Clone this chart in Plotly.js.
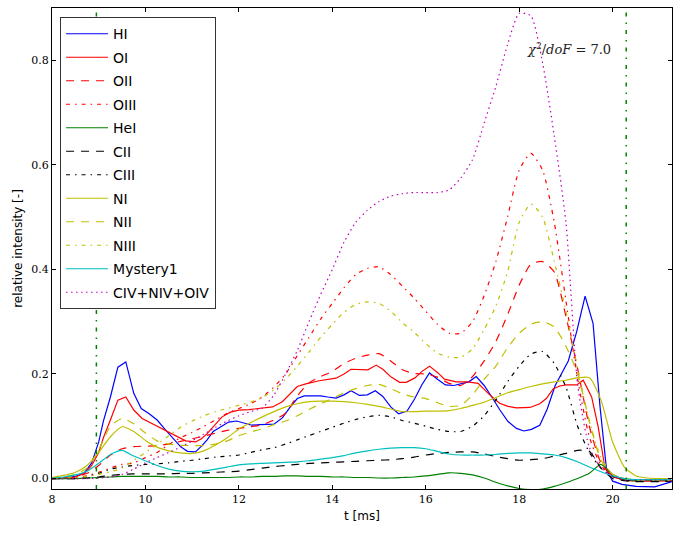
<!DOCTYPE html>
<html>
<head>
<meta charset="utf-8">
<script src="https://cdn.plot.ly/plotly-3.0.1.min.js"></script>
<style>html,body{margin:0;padding:0;background:#fff;}#chart{width:682px;height:533px;}</style>
</head>
<body>
<div id="chart"></div>
<script>
// ---- data ----
var tGrid = [8, 8.25, 8.5, 8.75, 9, 9.25, 9.5, 9.75, 10, 10.25, 10.5, 10.75, 11, 11.25, 11.5, 11.75, 12, 12.25, 12.5, 12.75, 13, 13.25, 13.5, 13.75, 14, 14.25, 14.5, 14.75, 15, 15.25, 15.5, 15.75, 16, 16.25, 16.5, 16.75, 17, 17.25, 17.5, 17.75, 18, 18.25, 18.5, 18.75, 19, 19.25, 19.5, 19.75, 20, 20.25, 20.5, 20.75, 21, 21.25];

var tHI = [8.0, 8.25, 8.5, 8.7, 8.85, 9.0, 9.1, 9.25, 9.41, 9.58, 9.75, 9.91, 10.08, 10.25, 10.43, 10.6, 10.75, 10.9, 11.07, 11.2, 11.32, 11.45, 11.61, 11.78, 11.95, 12.1, 12.28, 12.45, 12.6, 12.75, 12.93, 13.1, 13.25, 13.4, 13.58, 13.75, 13.9, 14.08, 14.25, 14.4, 14.58, 14.75, 14.92, 15.08, 15.25, 15.42, 15.6, 15.76, 15.92, 16.08, 16.25, 16.42, 16.6, 16.75, 16.92, 17.08, 17.25, 17.42, 17.58, 17.76, 17.94, 18.1, 18.26, 18.44, 18.6, 18.77, 18.9, 19.05, 19.23, 19.41, 19.58, 19.73, 19.87, 20.0, 20.2, 20.5, 20.9, 21.27];
var HI = [0, 0.001, 0.004, 0.012, 0.03, 0.07, 0.11, 0.156, 0.213, 0.223, 0.163, 0.134, 0.124, 0.112, 0.093, 0.075, 0.061, 0.052, 0.051, 0.062, 0.074, 0.09, 0.099, 0.108, 0.110, 0.107, 0.102, 0.103, 0.103, 0.104, 0.116, 0.137, 0.153, 0.158, 0.158, 0.158, 0.156, 0.154, 0.16, 0.168, 0.159, 0.160, 0.168, 0.157, 0.137, 0.124, 0.129, 0.152, 0.18, 0.202, 0.19, 0.179, 0.178, 0.181, 0.185, 0.195, 0.178, 0.155, 0.132, 0.109, 0.096, 0.091, 0.094, 0.102, 0.133, 0.178, 0.2, 0.225, 0.281, 0.349, 0.297, 0.137, 0.016, -0.005, -0.011, -0.015, -0.016, -0.006];

var tOI = [8.0, 8.25, 8.5, 8.7, 8.85, 9.0, 9.1, 9.25, 9.41, 9.58, 9.75, 9.93, 10.08, 10.21, 10.4, 10.57, 10.72, 10.86, 11.07, 11.2, 11.32, 11.48, 11.64, 11.82, 12.0, 12.22, 12.43, 12.72, 12.93, 13.1, 13.25, 13.43, 13.72, 14.08, 14.25, 14.4, 14.58, 14.76, 14.94, 15.08, 15.26, 15.44, 15.58, 15.76, 15.92, 16.08, 16.25, 16.4, 16.65, 16.9, 17.12, 17.25, 17.37, 17.58, 17.76, 17.94, 18.23, 18.44, 18.58, 18.73, 18.87, 19.01, 19.23, 19.37, 19.55, 19.69, 19.83, 20.01, 20.3, 20.7, 21.27];
var OI = [0, 0.001, 0.003, 0.01, 0.025, 0.05, 0.078, 0.112, 0.15, 0.156, 0.131, 0.115, 0.108, 0.102, 0.094, 0.086, 0.079, 0.072, 0.070, 0.076, 0.086, 0.102, 0.118, 0.127, 0.131, 0.132, 0.134, 0.137, 0.147, 0.162, 0.176, 0.181, 0.187, 0.192, 0.2, 0.209, 0.208, 0.208, 0.217, 0.209, 0.194, 0.184, 0.184, 0.192, 0.205, 0.215, 0.203, 0.19, 0.185, 0.185, 0.182, 0.17, 0.16, 0.144, 0.138, 0.135, 0.136, 0.143, 0.153, 0.172, 0.177, 0.179, 0.179, 0.188, 0.156, 0.099, 0.023, 0.003, -0.004, -0.005, -0.004];

var OII = [0, 0.001, 0.003, 0.01, 0.025, 0.045, 0.057, 0.061, 0.062, 0.063, 0.066, 0.071, 0.076, 0.081, 0.087, 0.092, 0.096, 0.099, 0.103, 0.112, 0.125, 0.158, 0.183, 0.195, 0.205, 0.22, 0.23, 0.236, 0.239, 0.225, 0.208, 0.201, 0.2, 0.194, 0.182, 0.178, 0.195, 0.225, 0.262, 0.313, 0.37, 0.41, 0.415, 0.395, 0.31, 0.21, 0.1, 0.03, 0.005, -0.002, -0.004, -0.004, -0.004, -0.004];
var OIII = [0, 0.001, 0.002, 0.005, 0.012, 0.02, 0.027, 0.03, 0.04, 0.05, 0.065, 0.078, 0.088, 0.1, 0.112, 0.125, 0.134, 0.143, 0.156, 0.175, 0.2, 0.235, 0.27, 0.305, 0.335, 0.365, 0.39, 0.402, 0.405, 0.39, 0.368, 0.345, 0.32, 0.295, 0.278, 0.278, 0.3, 0.35, 0.415, 0.5, 0.59, 0.622, 0.59, 0.49, 0.34, 0.19, 0.08, 0.025, 0.005, -0.002, -0.003, -0.003, -0.003, -0.003];
var HeI = [0, 0, 0, 0.001, 0.002, 0.003, 0.004, 0.004, 0.004, 0.004, 0.003, 0.003, 0.002, 0.002, 0.002, 0.002, 0.003, 0.003, 0.004, 0.004, 0.005, 0.005, 0.004, 0.004, 0.003, 0.003, 0.002, 0.002, 0.001, 0.001, 0.002, 0.003, 0.005, 0.008, 0.011, 0.01, 0.007, 0.001, -0.007, -0.014, -0.019, -0.021, -0.02, -0.015, -0.008, 0.0, 0.01, 0.027, 0.008, -0.002, -0.004, -0.003, -0.003, -0.003];
var CII = [0, 0, 0, 0.001, 0.003, 0.006, 0.008, 0.009, 0.009, 0.009, 0.009, 0.01, 0.01, 0.011, 0.012, 0.013, 0.014, 0.017, 0.02, 0.023, 0.025, 0.027, 0.029, 0.03, 0.031, 0.032, 0.033, 0.034, 0.035, 0.036, 0.038, 0.041, 0.045, 0.048, 0.05, 0.051, 0.051, 0.047, 0.042, 0.038, 0.035, 0.036, 0.038, 0.043, 0.048, 0.054, 0.052, 0.02, 0.0, -0.004, -0.006, -0.006, -0.006, -0.005];
var CIII = [0, 0, 0.001, 0.004, 0.01, 0.018, 0.022, 0.025, 0.027, 0.028, 0.03, 0.033, 0.035, 0.038, 0.041, 0.043, 0.045, 0.05, 0.055, 0.059, 0.066, 0.074, 0.082, 0.09, 0.098, 0.106, 0.113, 0.118, 0.121, 0.118, 0.111, 0.106, 0.1, 0.094, 0.09, 0.09, 0.1, 0.12, 0.15, 0.185, 0.215, 0.238, 0.243, 0.22, 0.175, 0.1, 0.05, 0.02, 0.004, -0.003, -0.004, -0.004, -0.004, -0.004];
var NI = [0.002, 0.006, 0.012, 0.025, 0.05, 0.08, 0.099, 0.09, 0.073, 0.06, 0.053, 0.049, 0.048, 0.053, 0.064, 0.078, 0.095, 0.107, 0.118, 0.128, 0.137, 0.143, 0.147, 0.148, 0.148, 0.147, 0.145, 0.142, 0.138, 0.133, 0.128, 0.128, 0.129, 0.129, 0.13, 0.134, 0.14, 0.146, 0.155, 0.164, 0.17, 0.176, 0.181, 0.185, 0.188, 0.193, 0.193, 0.15, 0.07, 0.022, 0.005, 0.001, 0.0, 0.0];
var NII = [0, 0.003, 0.008, 0.02, 0.055, 0.1, 0.115, 0.105, 0.087, 0.072, 0.066, 0.064, 0.063, 0.063, 0.066, 0.072, 0.082, 0.089, 0.095, 0.103, 0.11, 0.12, 0.132, 0.143, 0.153, 0.164, 0.172, 0.178, 0.18, 0.172, 0.162, 0.156, 0.153, 0.145, 0.138, 0.14, 0.16, 0.19, 0.215, 0.25, 0.278, 0.295, 0.3, 0.29, 0.253, 0.2, 0.11, 0.035, 0.008, 0.0, -0.003, -0.003, -0.003, -0.003];
var NIII = [0, 0.001, 0.002, 0.004, 0.008, 0.013, 0.02, 0.035, 0.05, 0.065, 0.082, 0.098, 0.11, 0.12, 0.128, 0.134, 0.14, 0.146, 0.155, 0.17, 0.19, 0.215, 0.242, 0.27, 0.295, 0.318, 0.333, 0.338, 0.335, 0.32, 0.298, 0.28, 0.258, 0.24, 0.232, 0.232, 0.248, 0.285, 0.33, 0.395, 0.49, 0.525, 0.5, 0.415, 0.32, 0.21, 0.11, 0.04, 0.008, 0.0, -0.002, -0.002, -0.002, -0.002];
var Mystery1 = [0.001, 0.003, 0.007, 0.014, 0.029, 0.046, 0.054, 0.043, 0.034, 0.025, 0.018, 0.014, 0.013, 0.014, 0.018, 0.022, 0.026, 0.028, 0.029, 0.03, 0.031, 0.032, 0.034, 0.037, 0.04, 0.044, 0.049, 0.053, 0.056, 0.058, 0.059, 0.059, 0.057, 0.052, 0.047, 0.045, 0.045, 0.045, 0.046, 0.048, 0.049, 0.049, 0.047, 0.045, 0.04, 0.032, 0.022, 0.013, 0.005, 0.0, -0.002, -0.002, -0.002, -0.002];
var CNOIV = [0, 0, 0, 0, 0.001, 0.003, 0.008, 0.018, 0.03, 0.04, 0.05, 0.06, 0.072, 0.085, 0.098, 0.11, 0.12, 0.128, 0.135, 0.16, 0.2, 0.245, 0.3, 0.352, 0.4, 0.452, 0.49, 0.513, 0.53, 0.54, 0.545, 0.547, 0.547, 0.547, 0.552, 0.575, 0.61, 0.68, 0.75, 0.83, 0.89, 0.885, 0.795, 0.655, 0.49, 0.18, 0.06, 0.02, 0.005, -0.003, -0.003, -0.003, -0.003, -0.003];

var markerTimes = [8.95, 20.29];
var chiText = '<i>\u03C7</i><sup>2</sup>/<i>doF</i> = 7.0';

// ---- styles ----
var DASH = '8px,7px', DASHDOT = '4px,5px,1.5px,5px', DOT = '1.5px,3.5px';
var LW = 1.2;
function tr(name, x, y, color, dash, shape) {
  return {type: 'scatter', mode: 'lines', name: name, x: x, y: y, legendgroup: name,
    line: {color: color, width: LW, dash: dash, shape: shape || 'spline', smoothing: 0.6}};
}
var traces = [
  tr('HI', tHI, HI, '#0000ff', 'solid', 'linear'),
  tr('OI', tOI, OI, '#ff0000', 'solid', 'linear'),
  tr('OII', tGrid, OII, '#ff0000', DASH),
  tr('OIII', tGrid, OIII, '#ff0000', DASHDOT),
  tr('HeI', tGrid, HeI, '#008000', 'solid'),
  tr('CII', tGrid, CII, '#000000', DASH),
  tr('CIII', tGrid, CIII, '#000000', DASHDOT),
  tr('NI', tGrid, NI, '#bfbf00', 'solid'),
  tr('NII', tGrid, NII, '#bfbf00', DASH),
  tr('NIII', tGrid, NIII, '#bfbf00', DASHDOT),
  tr('Mystery1', tGrid, Mystery1, '#00bfbf', 'solid'),
  tr('CIV+NIV+OIV', tGrid, CNOIV, '#bf00bf', DOT)
];

var shapes = markerTimes.map(function (t) {
  return {type: 'line', xref: 'x', yref: 'paper', x0: t, x1: t, y0: 0, y1: 1,
    line: {color: '#008000', width: 1.5, dash: '4px,6px,1.5px,6px'}, layer: 'above'};
});

var axisCommon = {
  showline: true, linecolor: '#000', linewidth: 1, mirror: 'allticks',
  ticks: 'inside', ticklen: 4, tickcolor: '#000', tickwidth: 1,
  showgrid: false, zeroline: false,
  tickfont: {family: 'DejaVu Serif', size: 11, color: '#000'}
};

var layout = {
  width: 682, height: 533,
  margin: {l: 52, r: 10, t: 8, b: 44},
  paper_bgcolor: '#fff', plot_bgcolor: '#fff',
  showlegend: true,
  legend: {x: 0.013, y: 0.981, xanchor: 'left', yanchor: 'top',
    bgcolor: '#fff', bordercolor: '#333', borderwidth: 1, tracegroupgap: 2.3, itemwidth: 42,
    font: {family: 'DejaVu Sans', size: 14, color: '#000'}},
  xaxis: Object.assign({}, axisCommon, {range: [8, 21.27], tick0: 8, dtick: 2,
    title: {text: 't [ms]', font: {family: 'DejaVu Sans', size: 12, color: '#000'}, standoff: 6}}),
  yaxis: Object.assign({}, axisCommon, {range: [-0.02, 0.9], tick0: 0, dtick: 0.2, tickformat: '.1f',
    title: {text: 'relative intensity [-]', font: {family: 'DejaVu Sans', size: 12, color: '#000'}, standoff: 6}}),
  shapes: shapes,
  annotations: [{x: 19.07, y: 0.822, xref: 'x', yref: 'y', text: chiText, showarrow: false,
    font: {family: 'DejaVu Serif', size: 13, color: '#222'}}]
};

Plotly.newPlot('chart', traces, layout, {displayModeBar: false, staticPlot: true});
</script>
</body>
</html>
